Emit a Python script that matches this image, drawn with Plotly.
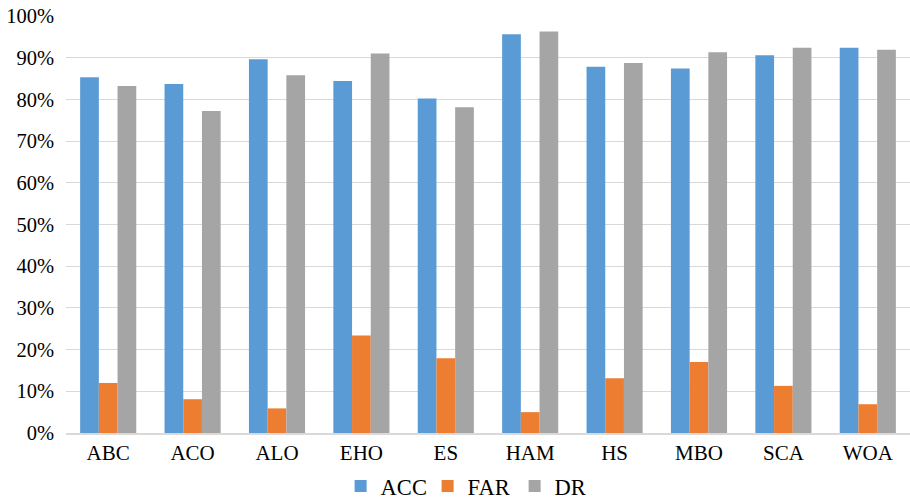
import plotly.graph_objects as go

# Detection metrics per optimisation algorithm (fractions of 1)
algorithms = ["ABC", "ACO", "ALO", "EHO", "ES", "HAM", "HS", "MBO", "SCA", "WOA"]
acc = [0.853, 0.837, 0.896, 0.844, 0.802, 0.956, 0.878, 0.874, 0.906, 0.924]
far = [0.120, 0.081, 0.059, 0.234, 0.179, 0.050, 0.131, 0.170, 0.113, 0.069]
dr = [0.832, 0.772, 0.858, 0.910, 0.781, 0.963, 0.887, 0.913, 0.924, 0.919]
y_ticks = [i / 10 for i in range(11)]

series = [
    ("ACC", acc, "#5B9BD5"),
    ("FAR", far, "#ED7D31"),
    ("DR", dr, "#A5A5A5"),
]

FONT = "Liberation Serif"

fig = go.Figure()
for name, vals, color in series:
    fig.add_trace(go.Bar(
        name=name,
        x=algorithms,
        y=vals,
        marker=dict(color=color, line=dict(width=0)),
    ))

fig.update_layout(
    width=910,
    height=501,
    margin=dict(l=66, r=0, t=16, b=68, autoexpand=False),
    paper_bgcolor="white",
    plot_bgcolor="white",
    barmode="group",
    bargap=0.335,
    bargroupgap=0,
    font=dict(family=FONT, color="#000000"),
    legend=dict(
        orientation="h",
        x=0.48,
        xanchor="center",
        y=-0.128,
        yanchor="middle",
        font=dict(family=FONT, size=22.5, color="#000000"),
        itemwidth=30,
        entrywidth=42,
        entrywidthmode="pixels",
        tracegroupgap=0,
    ),
    xaxis=dict(
        range=[-0.5, 9.5],
        showgrid=False,
        showline=True,
        linecolor="#D9D9D9",
        linewidth=1.5,
        ticks="",
        tickfont=dict(family=FONT, size=21, color="#000000"),
        ticklabelstandoff=0,
    ),
    yaxis=dict(
        range=[0, 1.0],
        tickvals=y_ticks,
        tickformat=".0%",
        showgrid=True,
        gridcolor="#D9D9D9",
        gridwidth=1.3,
        zeroline=False,
        showline=False,
        ticks="",
        tickfont=dict(family=FONT, size=20.5, color="#000000"),
        ticklabelstandoff=11,
    ),
)

fig.write_html("out.html")
